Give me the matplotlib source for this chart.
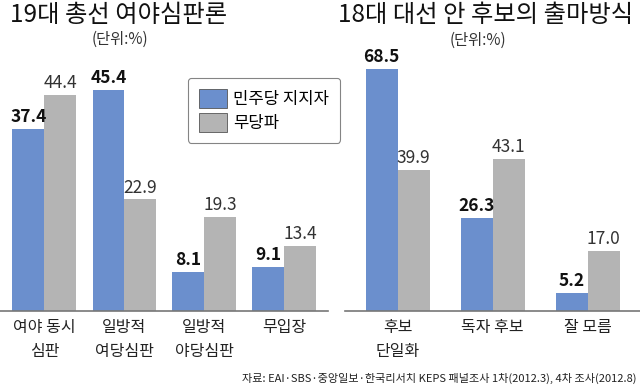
import numpy as np
import matplotlib
matplotlib.use("Agg")
import matplotlib.pyplot as plt
from matplotlib.patches import Patch

plt.rcParams['font.family'] = ['Noto Sans CJK KR', 'DejaVu Sans']

# data
left_cats = ["여야 동시\n심판", "일방적\n여당심판", "일방적\n야당심판", "무입장"]
left_dem = [37.4, 45.4, 8.1, 9.1]
left_ind = [44.4, 22.9, 19.3, 13.4]

right_cats = ["후보\n단일화", "독자 후보", "잘 모름"]
right_dem = [68.5, 26.3, 5.2]
right_ind = [39.9, 43.1, 17.0]

blue = "#6b8fcd"
gray = "#b4b4b4"

W, H = 640, 388
fig = plt.figure(figsize=(6.4, 3.88), dpi=100)

base = 311
top = 40
ax_b = (H - base) / H
ax_h = (base - top) / H


def panel(x0, x1, cats, dem, ind, spacing, center0, scale):
    ax = fig.add_axes([x0 / W, ax_b, (x1 - x0) / W, ax_h])
    x = np.arange(len(cats))
    w = 32 / spacing
    ax.bar(x - w / 2, dem, w, color=blue)
    ax.bar(x + w / 2, ind, w, color=gray)
    ax.set_xlim((x0 - center0) / spacing, (x1 - center0) / spacing)
    ax.set_ylim(0, (base - top) / scale)
    for i in range(len(cats)):
        ax.annotate(f"{dem[i]:.1f}", (x[i] - w / 2, dem[i]), xytext=(0, 2),
                    textcoords="offset points", ha="center", va="bottom",
                    fontsize=12.5, fontweight="bold", color="#111")
        ax.annotate(f"{ind[i]:.1f}", (x[i] + w / 2, ind[i]), xytext=(0, 2),
                    textcoords="offset points", ha="center", va="bottom",
                    fontsize=12.5, color="#333")
        ax.annotate(cats[i], (x[i], 0), xytext=(0, -6), textcoords="offset points",
                    ha="center", va="top", fontsize=11.5, color="#222",
                    linespacing=1.55, annotation_clip=False)
    for s in ["top", "left", "right"]:
        ax.spines[s].set_visible(False)
    ax.spines["bottom"].set_color("#777")
    ax.spines["bottom"].set_linewidth(1.2)
    ax.set_xticks([])
    ax.set_yticks([])
    return ax


panel(0, 328, left_cats, left_dem, left_ind, 80, 44.5, 4.87)
panel(345, 640, right_cats, right_dem, right_ind, 95, 397.5, 3.53)

# titles
fig.text(10 / W, 1 - 15 / H, "19대 총선 여야심판론", fontsize=17.5, fontweight="medium",
         va="center", ha="left", color="#111")
fig.text(633 / W, 1 - 15 / H, "18대 대선 안 후보의 출마방식", fontsize=17.5, fontweight="medium",
         va="center", ha="right", color="#111")
fig.text(120 / W, 1 - 39 / H, "(단위:%)", fontsize=11, va="center", ha="center", color="#333")
fig.text(478 / W, 1 - 40 / H, "(단위:%)", fontsize=11, va="center", ha="center", color="#333")

# legend
handles = [Patch(facecolor=blue, edgecolor="#555", linewidth=0.6, label="민주당 지지자"),
           Patch(facecolor=gray, edgecolor="#555", linewidth=0.6, label="무당파")]
leg = fig.legend(handles=handles, loc="upper left", bbox_to_anchor=(188 / W, 1 - 78 / H),
                 fontsize=12, frameon=True, fancybox=True, handlelength=1.7,
                 handleheight=1.38, handletextpad=0.35, labelspacing=0.3,
                 borderpad=0.65, borderaxespad=0)
leg.get_frame().set_edgecolor("#666")
leg.get_frame().set_linewidth(0.8)

fig.text(636 / W, 1 - 378 / H,
         "자료: EAI·SBS·중앙일보·한국리서치 KEPS 패널조사 1차(2012.3), 4차 조사(2012.8)",
         fontsize=8, ha="right", va="center", color="#222")

fig.savefig("out.png", dpi=100)
